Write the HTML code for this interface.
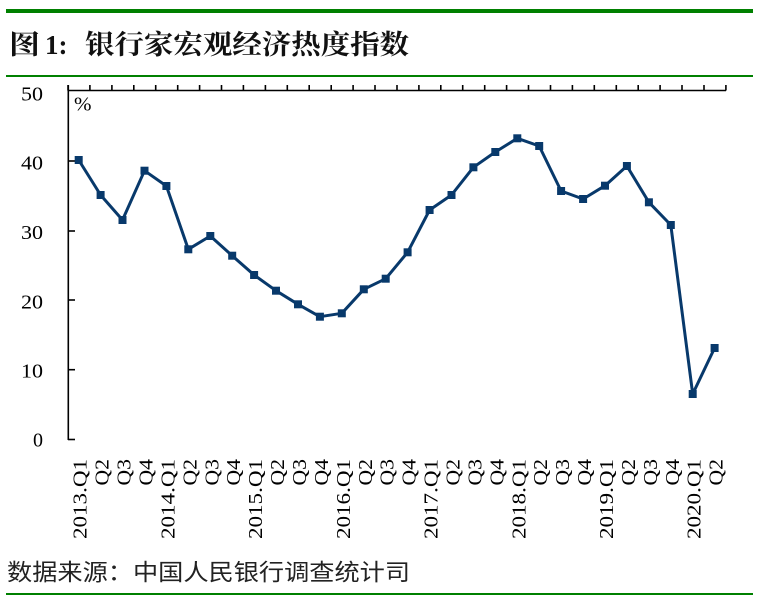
<!DOCTYPE html>
<html>
<head>
<meta charset="utf-8">
<style>
html,body{margin:0;padding:0;background:#fff;}
svg{display:block;}
</style>
</head>
<body>
<svg width="762" height="605" viewBox="0 0 762 605" xmlns="http://www.w3.org/2000/svg">
<rect width="762" height="605" fill="#fff"/>
<!-- green rules -->
<rect x="6" y="9" width="747" height="4" fill="#008000"/>
<rect x="6" y="75" width="747" height="2" fill="#008000"/>
<rect x="6" y="593" width="747" height="2" fill="#008000"/>

<!-- title -->
<text x="9" y="54" font-family="'Liberation Serif','Noto Serif CJK SC',serif" font-weight="bold" font-size="27" fill="#111" textLength="31" lengthAdjust="spacingAndGlyphs">图</text>
<text x="45" y="54" font-family="'Liberation Serif','Noto Serif CJK SC',serif" font-weight="bold" font-size="27" fill="#111">1:</text>
<text x="85" y="54" font-family="'Liberation Serif','Noto Serif CJK SC',serif" font-weight="bold" font-size="27" fill="#111" textLength="324" lengthAdjust="spacingAndGlyphs">银行家宏观经济热度指数</text>

<!-- source -->
<text x="7" y="580" font-family="'Liberation Sans','Noto Sans CJK SC',sans-serif" font-size="23" fill="#222" textLength="403" lengthAdjust="spacingAndGlyphs">数据来源：中国人民银行调查统计司</text>

<!-- axes -->
<g stroke="#000" stroke-width="1.6" fill="none">
<line x1="68" y1="90.5" x2="726" y2="90.5"/>
<line x1="68.3" y1="85" x2="68.3" y2="440"/>
<line x1="68" y1="439.5" x2="75" y2="439.5"/>
<line x1="68" y1="369.7" x2="75" y2="369.7"/>
<line x1="68" y1="300" x2="75" y2="300"/>
<line x1="68" y1="231" x2="75" y2="231"/>
<line x1="68" y1="161" x2="75" y2="161"/>
</g>

<!-- y labels -->
<g font-family="'Liberation Serif',serif" font-size="20" fill="#000" text-anchor="end">
<text x="43" y="100.5" textLength="22" lengthAdjust="spacingAndGlyphs">50</text>
<text x="43" y="169.3" textLength="22" lengthAdjust="spacingAndGlyphs">40</text>
<text x="43" y="239" textLength="22" lengthAdjust="spacingAndGlyphs">30</text>
<text x="43" y="308.3" textLength="22" lengthAdjust="spacingAndGlyphs">20</text>
<text x="43" y="377.7" textLength="22" lengthAdjust="spacingAndGlyphs">10</text>
<text x="43" y="446.7" textLength="10" lengthAdjust="spacingAndGlyphs">0</text>
</g>
<text x="74" y="110.5" font-family="'Liberation Serif',serif" font-size="20" fill="#000" textLength="17.5" lengthAdjust="spacingAndGlyphs">%</text>

<!-- static ticks -->
<g stroke="#000" stroke-width="1.6">
<line x1="68.0" y1="85" x2="68.0" y2="90.5"/><line x1="89.9" y1="85" x2="89.9" y2="90.5"/><line x1="111.9" y1="85" x2="111.9" y2="90.5"/><line x1="133.8" y1="85" x2="133.8" y2="90.5"/><line x1="155.7" y1="85" x2="155.7" y2="90.5"/><line x1="177.7" y1="85" x2="177.7" y2="90.5"/><line x1="199.6" y1="85" x2="199.6" y2="90.5"/><line x1="221.5" y1="85" x2="221.5" y2="90.5"/><line x1="243.4" y1="85" x2="243.4" y2="90.5"/><line x1="265.4" y1="85" x2="265.4" y2="90.5"/><line x1="287.3" y1="85" x2="287.3" y2="90.5"/><line x1="309.2" y1="85" x2="309.2" y2="90.5"/><line x1="331.2" y1="85" x2="331.2" y2="90.5"/><line x1="353.1" y1="85" x2="353.1" y2="90.5"/><line x1="375.0" y1="85" x2="375.0" y2="90.5"/><line x1="397.0" y1="85" x2="397.0" y2="90.5"/><line x1="418.9" y1="85" x2="418.9" y2="90.5"/><line x1="440.8" y1="85" x2="440.8" y2="90.5"/><line x1="462.7" y1="85" x2="462.7" y2="90.5"/><line x1="484.7" y1="85" x2="484.7" y2="90.5"/><line x1="506.6" y1="85" x2="506.6" y2="90.5"/><line x1="528.5" y1="85" x2="528.5" y2="90.5"/><line x1="550.5" y1="85" x2="550.5" y2="90.5"/><line x1="572.4" y1="85" x2="572.4" y2="90.5"/><line x1="594.3" y1="85" x2="594.3" y2="90.5"/><line x1="616.3" y1="85" x2="616.3" y2="90.5"/><line x1="638.2" y1="85" x2="638.2" y2="90.5"/><line x1="660.1" y1="85" x2="660.1" y2="90.5"/><line x1="682.0" y1="85" x2="682.0" y2="90.5"/><line x1="704.0" y1="85" x2="704.0" y2="90.5"/><line x1="725.9" y1="85" x2="725.9" y2="90.5"/>
</g>

<!-- series line -->
<polyline fill="none" stroke="#08396b" stroke-width="3" stroke-linejoin="round" points="78.7,160 100.6,195 122.5,220 144.5,170.7 166.4,186 188.3,249.3 210.3,236 232.2,255.7 254.1,275 276.0,290.7 298.0,304.3 319.9,316.7 341.8,313.3 363.8,289.3 385.7,278.7 407.6,252.3 429.6,210 451.5,195 473.4,167.3 495.3,152 517.3,138.3 539.2,146 561.1,191 583.1,199 605.0,185.7 626.9,166 648.9,202.3 670.8,225 692.7,394 714.6,348"/>
<g fill="#08396b">
<rect x="74.7" y="156" width="8" height="8"/><rect x="96.6" y="191" width="8" height="8"/><rect x="118.5" y="216" width="8" height="8"/><rect x="140.5" y="166.7" width="8" height="8"/><rect x="162.4" y="182" width="8" height="8"/><rect x="184.3" y="245.3" width="8" height="8"/><rect x="206.3" y="232" width="8" height="8"/><rect x="228.2" y="251.7" width="8" height="8"/><rect x="250.1" y="271" width="8" height="8"/><rect x="272.0" y="286.7" width="8" height="8"/><rect x="294.0" y="300.3" width="8" height="8"/><rect x="315.9" y="312.7" width="8" height="8"/><rect x="337.8" y="309.3" width="8" height="8"/><rect x="359.8" y="285.3" width="8" height="8"/><rect x="381.7" y="274.7" width="8" height="8"/><rect x="403.6" y="248.3" width="8" height="8"/><rect x="425.6" y="206" width="8" height="8"/><rect x="447.5" y="191" width="8" height="8"/><rect x="469.4" y="163.3" width="8" height="8"/><rect x="491.3" y="148" width="8" height="8"/><rect x="513.3" y="134.3" width="8" height="8"/><rect x="535.2" y="142" width="8" height="8"/><rect x="557.1" y="187" width="8" height="8"/><rect x="579.1" y="195" width="8" height="8"/><rect x="601.0" y="181.7" width="8" height="8"/><rect x="622.9" y="162" width="8" height="8"/><rect x="644.9" y="198.3" width="8" height="8"/><rect x="666.8" y="221" width="8" height="8"/><rect x="688.7" y="390" width="8" height="8"/><rect x="710.6" y="344" width="8" height="8"/>
</g>

<!-- x labels (rotated) -->
<g font-family="'Liberation Serif',serif" font-size="20" fill="#000" text-anchor="end">
<text transform="translate(86.7,459) rotate(-90)" textLength="80" lengthAdjust="spacingAndGlyphs">2013.Q1</text>
<text transform="translate(108.6,459) rotate(-90)" textLength="26.5" lengthAdjust="spacingAndGlyphs">Q2</text>
<text transform="translate(130.5,459) rotate(-90)" textLength="26.5" lengthAdjust="spacingAndGlyphs">Q3</text>
<text transform="translate(152.5,459) rotate(-90)" textLength="26.5" lengthAdjust="spacingAndGlyphs">Q4</text>
<text transform="translate(174.4,459) rotate(-90)" textLength="80" lengthAdjust="spacingAndGlyphs">2014.Q1</text>
<text transform="translate(196.3,459) rotate(-90)" textLength="26.5" lengthAdjust="spacingAndGlyphs">Q2</text>
<text transform="translate(218.3,459) rotate(-90)" textLength="26.5" lengthAdjust="spacingAndGlyphs">Q3</text>
<text transform="translate(240.2,459) rotate(-90)" textLength="26.5" lengthAdjust="spacingAndGlyphs">Q4</text>
<text transform="translate(262.1,459) rotate(-90)" textLength="80" lengthAdjust="spacingAndGlyphs">2015.Q1</text>
<text transform="translate(284.0,459) rotate(-90)" textLength="26.5" lengthAdjust="spacingAndGlyphs">Q2</text>
<text transform="translate(306.0,459) rotate(-90)" textLength="26.5" lengthAdjust="spacingAndGlyphs">Q3</text>
<text transform="translate(327.9,459) rotate(-90)" textLength="26.5" lengthAdjust="spacingAndGlyphs">Q4</text>
<text transform="translate(349.8,459) rotate(-90)" textLength="80" lengthAdjust="spacingAndGlyphs">2016.Q1</text>
<text transform="translate(371.8,459) rotate(-90)" textLength="26.5" lengthAdjust="spacingAndGlyphs">Q2</text>
<text transform="translate(393.7,459) rotate(-90)" textLength="26.5" lengthAdjust="spacingAndGlyphs">Q3</text>
<text transform="translate(415.6,459) rotate(-90)" textLength="26.5" lengthAdjust="spacingAndGlyphs">Q4</text>
<text transform="translate(437.6,459) rotate(-90)" textLength="80" lengthAdjust="spacingAndGlyphs">2017.Q1</text>
<text transform="translate(459.5,459) rotate(-90)" textLength="26.5" lengthAdjust="spacingAndGlyphs">Q2</text>
<text transform="translate(481.4,459) rotate(-90)" textLength="26.5" lengthAdjust="spacingAndGlyphs">Q3</text>
<text transform="translate(503.3,459) rotate(-90)" textLength="26.5" lengthAdjust="spacingAndGlyphs">Q4</text>
<text transform="translate(525.3,459) rotate(-90)" textLength="80" lengthAdjust="spacingAndGlyphs">2018.Q1</text>
<text transform="translate(547.2,459) rotate(-90)" textLength="26.5" lengthAdjust="spacingAndGlyphs">Q2</text>
<text transform="translate(569.1,459) rotate(-90)" textLength="26.5" lengthAdjust="spacingAndGlyphs">Q3</text>
<text transform="translate(591.1,459) rotate(-90)" textLength="26.5" lengthAdjust="spacingAndGlyphs">Q4</text>
<text transform="translate(613.0,459) rotate(-90)" textLength="80" lengthAdjust="spacingAndGlyphs">2019.Q1</text>
<text transform="translate(634.9,459) rotate(-90)" textLength="26.5" lengthAdjust="spacingAndGlyphs">Q2</text>
<text transform="translate(656.9,459) rotate(-90)" textLength="26.5" lengthAdjust="spacingAndGlyphs">Q3</text>
<text transform="translate(678.8,459) rotate(-90)" textLength="26.5" lengthAdjust="spacingAndGlyphs">Q4</text>
<text transform="translate(700.7,459) rotate(-90)" textLength="80" lengthAdjust="spacingAndGlyphs">2020.Q1</text>
<text transform="translate(722.6,459) rotate(-90)" textLength="26.5" lengthAdjust="spacingAndGlyphs">Q2</text>
</g>
</svg>
</body>
</html>
